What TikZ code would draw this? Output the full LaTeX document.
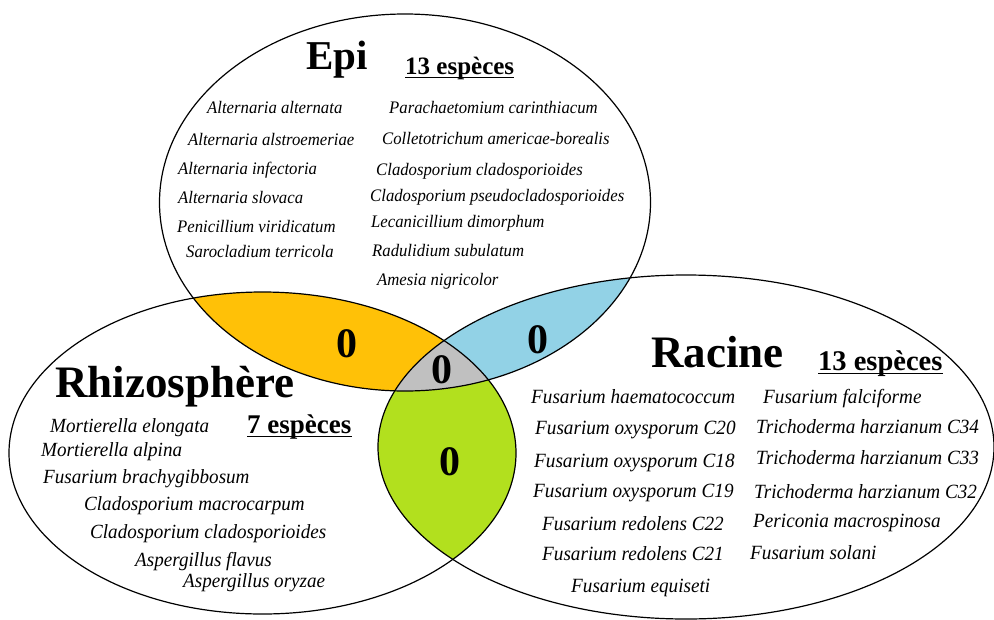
\documentclass[tikz,border=0pt]{standalone}
\usepackage{fontspec}
\setmainfont{Liberation Serif}
\newfontfamily\spfont[FakeStretch=0.95]{Liberation Serif}
\definecolor{cyel}{RGB}{255,193,7}
\definecolor{cblu}{RGB}{146,210,230}
\definecolor{cgrn}{RGB}{178,224,30}
\definecolor{cgry}{RGB}{192,192,192}
\begin{document}
\begin{tikzpicture}[x=1pt,y=-1pt,
  ell/.style={draw=black,line width=1.2pt},
  ep/.style={inner sep=0pt,anchor=base west,font=\spfont\fontsize{17.6}{22}\selectfont\itshape},
  rz/.style={inner sep=0pt,anchor=base west,font=\spfont\fontsize{20.1}{24}\selectfont\itshape},
  rc/.style={inner sep=0pt,anchor=base west,font=\spfont\fontsize{20.2}{24}\selectfont\itshape},
  ttl/.style={inner sep=0pt,anchor=base west,font=\fontsize{#1}{#1}\selectfont\bfseries},
  cnt/.style={inner sep=0pt,anchor=base west,font=\fontsize{#1}{#1}\selectfont\bfseries},
  zero/.style={inner sep=0pt,font=\fontsize{42}{42}\selectfont\bfseries},
  ul/.style={line width=1.3pt}]
\useasboundingbox (0,0) rectangle (994,619);
\fill[white] (0,0) rectangle (994,619);
% green: left and right
\begin{scope}
  \clip (262.5,453) ellipse [x radius=253.5,y radius=161];
  \fill[cgrn] (686,447) ellipse [x radius=308,y radius=172];
\end{scope}
% yellow, blue, gray
\begin{scope}
  \clip (405,202.5) ellipse [x radius=245.5,y radius=188.5];
  \fill[cyel] (262.5,453) ellipse [x radius=253.5,y radius=161];
  \fill[cblu] (686,447) ellipse [x radius=308,y radius=172];
  \clip (262.5,453) ellipse [x radius=253.5,y radius=161];
  \fill[cgry] (686,447) ellipse [x radius=308,y radius=172];
\end{scope}
% outlines
\draw[ell] (405,202.5) ellipse [x radius=245.5,y radius=188.5];
\draw[ell] (262.5,453) ellipse [x radius=253.5,y radius=161];
\draw[ell] (686,447) ellipse [x radius=308,y radius=172];
% zeros
\node[zero] (z1) at (347,344) {0};
\node[zero] (z2) at (442,370) {0};
\node[zero] (z3) at (538,340) {0};
\node[zero] (z4) at (450,462) {0};
% Epi
\node[ttl=41] (tepi) at (306,69) {Epi};
\node[cnt=25] (cepi) at (405,74) {13 espèces};
\draw[ul] ([yshift=-3.2pt]cepi.base west) -- ([yshift=-3.2pt]cepi.base east);
\node[ep] (e1) at (207,113) {Alternaria alternata};
\node[ep] (e2) at (188,145) {Alternaria alstroemeriae};
\node[ep] (e3) at (178,174) {Alternaria infectoria};
\node[ep] (e4) at (178,203) {Alternaria slovaca};
\node[ep] (e5) at (177,232) {Penicillium viridicatum};
\node[ep] (e6) at (186,257) {Sarocladium terricola};
\node[ep] (e7) at (389,113) {Parachaetomium carinthiacum};
\node[ep] (e8) at (382,144) {Colletotrichum americae-borealis};
\node[ep] (e9) at (376,175) {Cladosporium cladosporioides};
\node[ep] (e10) at (370,201) {Cladosporium pseudocladosporioides};
\node[ep] (e11) at (371,227) {Lecanicillium dimorphum};
\node[ep] (e12) at (372,256) {Radulidium subulatum};
\node[ep] (e13) at (377,285) {Amesia nigricolor};
% Rhizosphere
\node[ttl=45] (trz) at (55,397) {Rhizosphère};
\node[cnt=27] (crz) at (247,433) {7 espèces};
\draw[ul] ([yshift=-3.2pt]crz.base west) -- ([yshift=-3.2pt]crz.base east);
\node[rz] (r1) at (50,432) {Mortierella elongata};
\node[rz] (r2) at (41,456) {Mortierella alpina};
\node[rz] (r3) at (43,483) {Fusarium brachygibbosum};
\node[rz] (r4) at (84,510) {Cladosporium macrocarpum};
\node[rz] (r5) at (90,538) {Cladosporium cladosporioides};
\node[rz] (r6) at (135,566) {Aspergillus flavus};
\node[rz] (r7) at (183,587) {Aspergillus oryzae};
% Racine
\node[ttl=45] (trc) at (651,367) {Racine};
\node[cnt=28.5] (crc) at (818,370) {13 espèces};
\draw[ul] ([yshift=-3.2pt]crc.base west) -- ([yshift=-3.2pt]crc.base east);
\node[rc] (k1) at (531,403) {Fusarium haematococcum};
\node[rc] (k2) at (535,434) {Fusarium oxysporum C20};
\node[rc] (k3) at (534,467) {Fusarium oxysporum C18};
\node[rc] (k4) at (533,497) {Fusarium oxysporum C19};
\node[rc] (k5) at (542,530) {Fusarium redolens C22};
\node[rc] (k6) at (542,560) {Fusarium redolens C21};
\node[rc] (k7) at (571,592) {Fusarium equiseti};
\node[rc] (k8) at (763,403) {Fusarium falciforme};
\node[rc] (k9) at (756,433) {Trichoderma harzianum C34};
\node[rc] (k10) at (756,464) {Trichoderma harzianum C33};
\node[rc] (k11) at (754,498) {Trichoderma harzianum C32};
\node[rc] (k12) at (753,527) {Periconia macrospinosa};
\node[rc] (k13) at (750,559) {Fusarium solani};
\end{tikzpicture}
\end{document}
